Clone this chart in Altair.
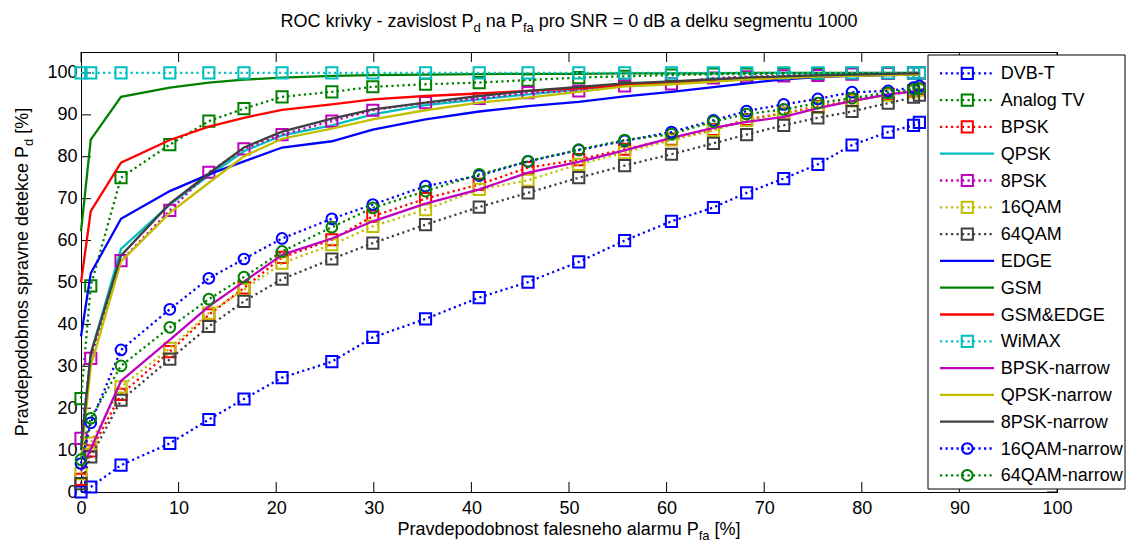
import altair as alt
import pandas as pd

# ---------------- data ----------------
pfa = [0, 1.0, 4.1, 9.1, 13.1, 16.7, 20.6, 25.7, 29.9, 35.3, 40.8, 45.8, 51.0,
       55.7, 60.5, 64.8, 68.2, 72.0, 75.5, 79.0, 82.7, 85.3, 85.9]

dvbt = [0, 1.2, 6.4, 11.6, 17.3, 22.2, 27.3, 31.1, 36.9, 41.3, 46.4, 50.1, 54.9,
        60.0, 64.6, 67.9, 71.4, 74.8, 78.2, 82.8, 85.9, 87.5, 88.2]
analog_tv = [22.3, 49.2, 75.0, 82.9, 88.5, 91.5, 94.3, 95.5, 96.7, 97.3, 97.7, 98.3, 98.9,
             99.2, 99.5, 99.7, 99.7, 99.8, 99.8, 99.9, 99.9, 100, 100]
bpsk = [3.0, 9.8, 23.3, 33.5, 42.3, 48.7, 56.0, 60.2, 65.8, 70.0, 73.4, 77.4, 79.3,
        81.8, 84.2, 86.5, 88.9, 90.4, 92.0, 93.5, 94.9, 95.8, 96.2]
qpsk = [11.0, 33.0, 58.0, 68.6, 75.5, 81.3, 85.1, 87.5, 90.1, 92.3, 93.7, 94.9, 96.1,
        97.1, 97.8, 98.4, 98.8, 99.1, 99.4, 99.6, 99.8, 99.9, 99.9]
psk8 = [12.8, 31.9, 55.2, 67.2, 76.3, 81.9, 85.3, 88.5, 91.1, 92.9, 93.9, 95.3, 95.7,
        96.9, 97.4, 98.8, 99.1, 99.3, 99.4, 99.7, 99.9, 100, 100]
qam16 = [4.4, 11.7, 25.1, 34.3, 42.7, 48.3, 54.6, 59.0, 63.4, 67.4, 72.2, 74.4, 78.2,
         81.0, 84.0, 86.3, 88.7, 90.3, 91.8, 93.3, 94.7, 95.5, 95.9]
qam64 = [2.0, 8.4, 21.9, 31.7, 39.5, 45.5, 50.8, 55.6, 59.4, 63.8, 68.0, 71.4, 75.0,
         77.9, 80.6, 83.2, 85.3, 87.5, 89.3, 90.8, 92.8, 94.2, 94.7]
edge = [37.1, 52.2, 65.2, 71.8, 75.8, 78.9, 82.2, 83.7, 86.5, 88.9, 90.8, 92.1, 93.1,
        94.4, 95.5, 96.6, 97.5, 98.5, 99.0, 99.3, 99.5, 99.6, 99.6]
gsm = [62.2, 84.1, 94.3, 96.5, 97.7, 98.4, 98.9, 99.3, 99.5, 99.6, 99.7, 99.8, 99.8,
       99.9, 99.9, 99.9, 100, 100, 100, 100, 100, 100, 100]
gsm_edge = [50.0, 67.0, 78.6, 84.0, 87.2, 89.3, 91.2, 92.5, 93.7, 94.5, 95.1, 95.7, 96.3,
            97.1, 97.6, 98.1, 98.5, 98.9, 99.2, 99.4, 99.6, 99.7, 99.7]
wimax = [100, 100, 100, 100, 100, 100, 100, 100, 100, 100, 100, 100, 100,
         100, 100, 100, 100, 100, 100, 100, 100, 100, 100]
bpsk_n = [5.0, 10.3, 26.5, 36.3, 44.3, 50.2, 56.6, 60.5, 64.6, 68.8, 72.2, 76.2, 78.8,
          81.5, 84.5, 86.9, 88.3, 89.5, 91.6, 93.3, 94.9, 95.6, 96.0]
qpsk_n = [8.0, 30.0, 55.0, 66.6, 73.8, 80.1, 84.3, 86.7, 88.9, 91.1, 92.9, 94.1, 95.5,
          96.8, 97.3, 97.9, 98.5, 98.8, 99.1, 99.3, 99.5, 99.6, 99.6]
psk8_n = [10.0, 33.0, 56.4, 68.8, 76.0, 82.2, 86.0, 89.1, 91.3, 92.9, 94.5, 95.7, 96.7,
          97.5, 98.0, 98.5, 98.9, 99.2, 99.4, 99.6, 99.8, 99.9, 99.9]
qam16_n = [6.8, 16.5, 33.9, 43.6, 51.0, 55.6, 60.5, 65.2, 68.6, 73.0, 75.5, 78.9, 81.6,
           83.8, 85.9, 88.7, 90.9, 92.5, 93.8, 95.4, 95.7, 96.5, 96.9]
qam64_n = [7.7, 17.6, 30.1, 39.3, 46.0, 51.3, 57.4, 63.2, 67.8, 71.8, 75.8, 78.9, 81.7,
           84.0, 85.4, 88.4, 90.2, 91.3, 92.8, 94.0, 95.3, 96.1, 96.3]

names = ["DVB-T", "Analog TV", "BPSK", "QPSK", "8PSK", "16QAM", "64QAM", "EDGE", "GSM",
         "GSM&EDGE", "WiMAX", "BPSK-narrow", "QPSK-narrow", "8PSK-narrow",
         "16QAM-narrow", "64QAM-narrow"]
values = [dvbt, analog_tv, bpsk, qpsk, psk8, qam16, qam64, edge, gsm, gsm_edge, wimax,
          bpsk_n, qpsk_n, psk8_n, qam16_n, qam64_n]

BLUE, GREEN, RED, CYAN, MAG, YEL, GRAY = ("#0000FF", "#008000", "#FF0000", "#00BFBF",
                                          "#BF00BF", "#BFBF00", "#404040")
colors = [BLUE, GREEN, RED, CYAN, MAG, YEL, GRAY, BLUE, GREEN, RED, CYAN, MAG, YEL, GRAY,
          BLUE, GREEN]
dotted = [True, True, True, False, True, True, True, False, False, False, True, False,
          False, False, True, True]
markers = ["square", "square", "square", None, "square", "square", "square", None, None,
           None, "square", None, None, None, "circle", "circle"]

xticks = [0, 10, 20, 30, 40, 50, 60, 70, 80, 90, 100]
yticks = [0, 10, 20, 30, 40, 50, 60, 70, 80, 90, 100]

# ---------------- layout ----------------
W, H = 976, 440
FONT = "Liberation Sans"
FS = 18
SFS = 13
DOT = [2.2, 3.3]
LW = 2.3

xs = alt.Scale(domain=[0, 100], nice=False, zero=False)
ys = alt.Scale(domain=[0, 105], nice=False, zero=False)
xax = alt.Axis(values=xticks, title=None, ticks=False, grid=False, labelFlush=False,
               labelOverlap=False, labelPadding=7, labelFont=FONT, labelFontSize=FS,
               labelColor="black", domainColor="black")
yax = alt.Axis(values=yticks, title=None, ticks=False, grid=False, labelFlush=False,
               labelOverlap=False, labelPadding=4, labelFont=FONT, labelFontSize=FS,
               labelColor="black", domainColor="black")

def X(f="x"):
    return alt.X(f"{f}:Q", scale=xs, axis=xax)

def Y(f="y"):
    return alt.Y(f"{f}:Q", scale=ys, axis=yax)

layers = []

# inward tick marks
tx = pd.DataFrame({"t": xticks})
ty = pd.DataFrame({"t": yticks})
layers.append(alt.Chart(tx).mark_rule(color="black", strokeWidth=1).encode(
    x=X("t"), y=alt.value(H), y2=alt.value(H - 10)))
layers.append(alt.Chart(tx).mark_rule(color="black", strokeWidth=1).encode(
    x=X("t"), y=alt.value(0), y2=alt.value(10)))
layers.append(alt.Chart(ty).mark_rule(color="black", strokeWidth=1).encode(
    y=Y("t"), x=alt.value(0), x2=alt.value(10)))
layers.append(alt.Chart(ty).mark_rule(color="black", strokeWidth=1).encode(
    y=Y("t"), x=alt.value(W), x2=alt.value(W - 10)))

# series
for name, vals, col, dt, mk in zip(names, values, colors, dotted, markers):
    df = pd.DataFrame({"x": pfa, "y": vals})
    lkw = dict(color=col, strokeWidth=LW, clip=False)
    if dt:
        lkw["strokeDash"] = DOT
    layers.append(alt.Chart(df).mark_line(**lkw).encode(x=X(), y=Y()))
    if mk:
        layers.append(alt.Chart(df).mark_point(
            shape=mk, filled=False, color=col, strokeWidth=2, opacity=1,
            size=125 if mk == "square" else 115).encode(x=X(), y=Y()))

# legend (drawn as marks)
one = pd.DataFrame({"a": [0]})
layers.append(alt.Chart(one).mark_rect(fill="white", stroke="black", strokeWidth=1).encode(
    x=alt.value(847), x2=alt.value(1044), y=alt.value(3), y2=alt.value(437)))
for i, (name, col, dt, mk) in enumerate(zip(names, colors, dotted, markers)):
    yy = 21.3 + i * 26.8
    rkw = dict(color=col, strokeWidth=LW)
    if dt:
        rkw["strokeDash"] = DOT
    layers.append(alt.Chart(one).mark_rule(**rkw).encode(
        x=alt.value(859), x2=alt.value(913), y=alt.value(yy)))
    if mk:
        layers.append(alt.Chart(one).mark_point(
            shape=mk, filled=False, color=col, strokeWidth=2, opacity=1,
            size=125 if mk == "square" else 115).encode(x=alt.value(886.3), y=alt.value(yy)))
    layers.append(alt.Chart(one).mark_text(
        text=name, align="left", baseline="middle", font=FONT, fontSize=FS,
        color="black").encode(x=alt.value(919.7), y=alt.value(yy + 1)))

# text with subscripts
CW = {' ': 278, 'R': 722, 'O': 778, 'C': 722, 'k': 500, 'r': 333, 'i': 222, 'v': 500,
      'y': 500, '-': 333, 'z': 500, 'a': 556, 's': 500, 'l': 222, 'o': 556, 't': 278,
      'P': 667, 'd': 556, 'n': 556, 'f': 278, 'S': 667, 'N': 722, '=': 584, '0': 556,
      '1': 556, 'B': 667, 'e': 556, 'u': 556, 'g': 556, 'm': 833, 'b': 556, 'h': 556,
      'p': 556, 'c': 500, '[': 278, ']': 278, '%': 889}

def tw(s, fs):
    return sum(CW.get(c, 556) for c in s) / 1000 * fs

def text_layer(t, x, y, fs, angle=0):
    kw = dict(text=t, align="left", baseline="alphabetic", font=FONT, fontSize=fs,
              color="black")
    if angle:
        kw["angle"] = angle
    return alt.Chart(one).mark_text(**kw).encode(x=alt.value(x), y=alt.value(y))

def split_lead(t):
    s = t.lstrip(" ")
    return t[:len(t) - len(s)], s

def hpieces(pieces, cx, by):
    total = sum(tw(t, SFS if s else FS) for t, s in pieces)
    x = cx - total / 2
    for t, s in pieces:
        fs = SFS if s else FS
        lead, body = split_lead(t)
        layers.append(text_layer(body, x + tw(lead, fs), by + (5 if s else 0), fs))
        x += tw(t, fs)

def vpieces(pieces, cy, bx):
    total = sum(tw(t, SFS if s else FS) for t, s in pieces)
    y = cy + total / 2
    for t, s in pieces:
        fs = SFS if s else FS
        lead, body = split_lead(t)
        layers.append(text_layer(body, bx + (5 if s else 0), y - tw(lead, fs), fs,
                                 angle=270))
        y -= tw(t, fs)

hpieces([("ROC krivky - zavislost P", False), ("d", True), (" na P", False), ("fa", True),
         (" pro SNR = 0 dB a delku segmentu 1000", False)], W / 2, -25)
hpieces([("Pravdepodobnost falesneho alarmu P", False), ("fa", True), (" [%]", False)],
        W / 2, 483)
vpieces([("Pravdepodobnos spravne detekce P", False), ("d", True), (" [%]", False)],
        H / 2, -53)

chart = alt.layer(*layers).properties(
    width=W, height=H,
    autosize=alt.AutoSizeParams(type="none"),
    padding={"left": 81, "top": 52, "right": 69, "bottom": 53},
    background="white",
).configure_view(stroke="black", strokeWidth=1)

chart.save("out.html", embed_options={"renderer": "svg", "actions": False})
